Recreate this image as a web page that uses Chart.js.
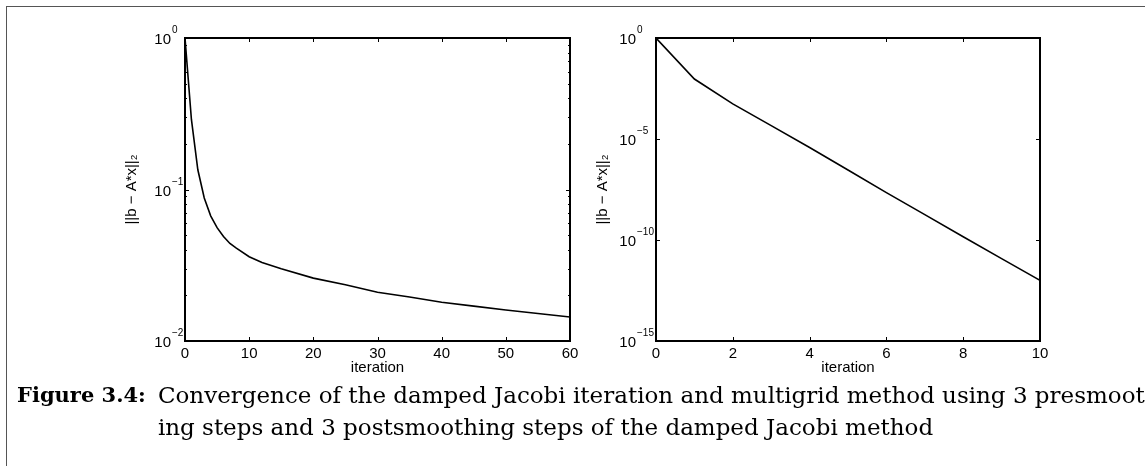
<!DOCTYPE html>
<html lang="en">
<head>
<meta charset="UTF-8">
<title>Figure 3.4</title>
<script src="https://cdn.jsdelivr.net/npm/chart.js"></script>
<style>
    html, body { margin: 0; padding: 0; background: #fff; }
    body { width: 1145px; height: 466px; position: relative; overflow: hidden; }
    .frame {
        position: absolute; left: 6px; top: 6px; width: 1300px; height: 600px;
        border-top: 1.5px solid #555; border-left: 1.5px solid #555;
    }
    canvas { position: absolute; }
    #left { left: 100px; top: 20px; }
    #right { left: 571px; top: 20px; }
    .caption {
        position: absolute; left: 17px; top: 379px; display: flex;
        font-family: "DejaVu Serif", serif; font-size: 23px; line-height: 32px;
        color: #000; white-space: nowrap;
    }
    .caption b { font-size: 21px; margin-right: 12px; }
</style>
</head>
<body>
<div class="frame"></div>
<canvas id="left" width="490" height="370"></canvas>
<canvas id="right" width="489" height="370"></canvas>
<div class="caption">
    <b>Figure 3.4:</b>
    <div>
        <div>Convergence of the damped Jacobi iteration and multigrid method using 3 presmooth-</div>
        <div>ing steps and 3 postsmoothing steps of the damped Jacobi method</div>
    </div>
</div>

<script>
    // damped Jacobi (left) residual norms
    const jacobiIter = [0, 1, 2, 3, 4, 5, 6, 7, 8, 10, 12, 15, 20, 25, 30, 35, 40, 45, 50, 55, 60];
    const jacobiRes  = [1.0, 0.29, 0.135, 0.088, 0.067, 0.056, 0.049, 0.044, 0.041, 0.036, 0.033,
                        0.030, 0.026, 0.0235, 0.021, 0.0195, 0.018, 0.017, 0.016, 0.0152, 0.0144];

    // multigrid (right) residual norms
    const mgIter = [0, 1, 2, 3, 4, 5, 6, 7, 8, 9, 10];
    const mgRes  = [1.0, 9.3e-3, 5.5e-4, 4.6e-5, 3.8e-6, 2.9e-7, 2.2e-8, 1.8e-9, 1.45e-10, 1.2e-11, 1.0e-12];

    // axis ticks
    const leftXTicks  = [0, 10, 20, 30, 40, 50, 60];
    const leftYTicks  = [1e-2, 1e-1, 1e0];
    const leftYMinor  = [2e-2, 3e-2, 4e-2, 5e-2, 6e-2, 7e-2, 8e-2, 9e-2,
                         2e-1, 3e-1, 4e-1, 5e-1, 6e-1, 7e-1, 8e-1, 9e-1];
    const rightXTicks = [0, 2, 4, 6, 8, 10];
    const rightYTicks = [1e-15, 1e-10, 1e-5, 1e0];

    const yTitle = '||b \u2212 A*x||\u2082';

    Chart.defaults.font.family = '"Liberation Sans", Arial, sans-serif';
    Chart.defaults.color = '#000';

    // matlab-like box with inward ticks and 10^n labels
    function boxPlugin(yMajor, yMinor, labelGap) {
        return {
            id: 'box',
            afterDraw(chart) {
                const { ctx, chartArea: a, scales: { x, y } } = chart;
                ctx.save();
                ctx.strokeStyle = '#000';
                ctx.lineWidth = 2;
                ctx.strokeRect(a.left, a.top, a.right - a.left, a.bottom - a.top);

                ctx.lineWidth = 1;
                ctx.beginPath();
                x.ticks.forEach(t => {
                    const px = Math.round(x.getPixelForValue(t.value)) + 0.5;
                    ctx.moveTo(px, a.bottom); ctx.lineTo(px, a.bottom - 4);
                    ctx.moveTo(px, a.top); ctx.lineTo(px, a.top + 4);
                });
                yMajor.forEach(v => {
                    const py = Math.round(y.getPixelForValue(v)) + 0.5;
                    ctx.moveTo(a.left, py); ctx.lineTo(a.left + 4, py);
                    ctx.moveTo(a.right, py); ctx.lineTo(a.right - 4, py);
                });
                yMinor.forEach(v => {
                    const py = Math.round(y.getPixelForValue(v)) + 0.5;
                    ctx.moveTo(a.left, py); ctx.lineTo(a.left + 2, py);
                    ctx.moveTo(a.right, py); ctx.lineTo(a.right - 2, py);
                });
                ctx.stroke();

                ctx.fillStyle = '#000';
                yMajor.forEach(v => {
                    const py = y.getPixelForValue(v);
                    const e = Math.round(Math.log10(v));
                    const bx = a.left - labelGap;
                    ctx.font = '15px "Liberation Sans"';
                    ctx.textAlign = 'right';
                    ctx.textBaseline = 'alphabetic';
                    ctx.fillText('10', bx, py + 6);
                    ctx.font = '10px "Liberation Sans"';
                    ctx.textAlign = 'left';
                    ctx.fillText(e < 0 ? '\u2212' + (-e) : String(e), bx + 1, py - 5);
                });
                ctx.restore();
            }
        };
    }

    function makeChart(id, xs, ys, xTicks, xMax, yMin, yMajor, yMinor, labelGap) {
        return new Chart(document.getElementById(id), {
            type: 'line',
            data: {
                datasets: [{
                    data: xs.map((v, i) => ({ x: v, y: ys[i] })),
                    borderColor: '#000',
                    borderWidth: 1.6,
                    pointRadius: 0,
                    tension: 0,
                    fill: false
                }]
            },
            options: {
                responsive: false,
                animation: false,
                devicePixelRatio: 1,
                layout: { padding: { top: 18, right: 20, left: 0, bottom: 0 } },
                plugins: { legend: { display: false }, tooltip: { enabled: false } },
                scales: {
                    x: {
                        type: 'linear', min: 0, max: xMax,
                        afterBuildTicks: s => { s.ticks = xTicks.map(v => ({ value: v })); },
                        afterFit: s => { s.height = 49; },
                        grid: { display: false, drawTicks: false },
                        border: { display: false },
                        ticks: { font: { size: 15 }, padding: 4, maxRotation: 0, autoSkip: false },
                        title: { display: true, text: 'iteration', font: { size: 15 }, padding: { top: 0, bottom: 13 } }
                    },
                    y: {
                        type: 'logarithmic', min: yMin, max: 1,
                        afterFit: s => { s.width = 85; },
                        grid: { display: false, drawTicks: false },
                        border: { display: false },
                        ticks: { display: false },
                        title: { display: true, text: yTitle, font: { size: 15 }, padding: { top: 23, bottom: 0 } }
                    }
                }
            },
            plugins: [boxPlugin(yMajor, yMinor, labelGap)]
        });
    }

    makeChart('left', jacobiIter, jacobiRes, leftXTicks, 60, 1e-2, leftYTicks, leftYMinor, 14);
    makeChart('right', mgIter, mgRes, rightXTicks, 10, 1e-15, rightYTicks, [], 20);
</script>
</body>
</html>
